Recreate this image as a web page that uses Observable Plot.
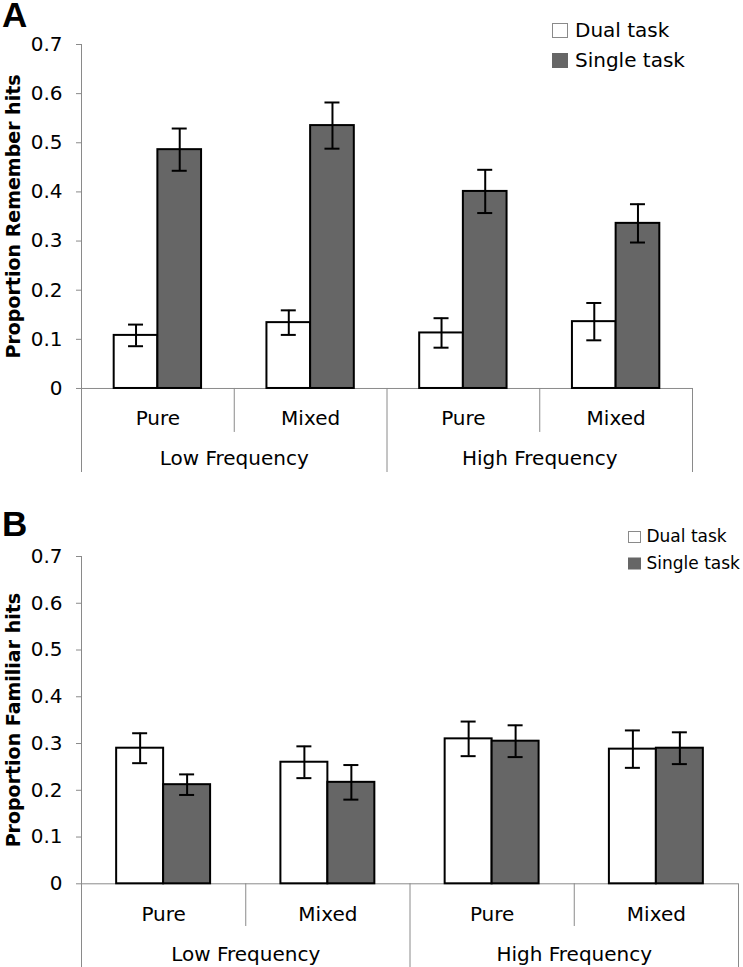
<!DOCTYPE html>
<html>
<head>
<meta charset="utf-8">
<script src="https://cdn.jsdelivr.net/npm/d3@7"></script>
<script src="https://cdn.jsdelivr.net/npm/@observablehq/plot@0.6"></script>
<style>
  html, body { margin: 0; padding: 0; background: #fff; }
  #wrap { position: relative; width: 743px; height: 967px; overflow: hidden; background: #fff; }
  #wrap > div.panel { display: block; line-height: 0; }
  #overlay { position: absolute; left: 0; top: 0; pointer-events: none; }
</style>
</head>
<body>
<div id="wrap">
  <div class="panel" id="panelA"></div>
  <div class="panel" id="panelB"></div>
</div>
<script>
// ---- data ----
const groups = ["Low Frequency", "High Frequency"];
const lists = ["Pure", "Mixed"];
const conditions = ["Dual task", "Single task"];
const conditionColors = ["#ffffff", "#666666"];
const yTicks = [0, 0.1, 0.2, 0.3, 0.4, 0.5, 0.6, 0.7];

// order: LF-Pure, LF-Mixed, HF-Pure, HF-Mixed
const rememberDual      = [0.108, 0.134, 0.113, 0.136];
const rememberDualErr   = [0.022, 0.025, 0.030, 0.038];
const rememberSingle    = [0.486, 0.535, 0.401, 0.336];
const rememberSingleErr = [0.043, 0.047, 0.044, 0.039];

const familiarDual      = [0.290, 0.260, 0.310, 0.288];
const familiarDualErr   = [0.032, 0.034, 0.037, 0.040];
const familiarSingle    = [0.212, 0.217, 0.305, 0.290];
const familiarSingleErr = [0.022, 0.037, 0.034, 0.034];

// ---- build tables ----
const categories = [];
groups.forEach((g, gi) => lists.forEach((l, li) => categories.push({group: g, list: l, i: gi * lists.length + li})));

function table(dual, dualErr, single, singleErr) {
  const rows = [];
  categories.forEach((c, k) => {
    rows.push({...c, cond: conditions[0], ci: 0, v: dual[k], e: dualErr[k]});
    rows.push({...c, cond: conditions[1], ci: 1, v: single[k], e: singleErr[k]});
  });
  return rows;
}

const FONT = "'DejaVu Sans', Verdana, sans-serif";
const AXIS = "#8a8a8a";
const BARW = 0.286; // bar width as fraction of a category

function panel({rows, title, width, height, marginTop, marginLeft, marginRight, yMin, listY, groupY, dividerY}) {
  const innerW = width - marginLeft - marginRight;
  const cap = 7.5 / (innerW / categories.length);
  const x1 = d => d.i + 0.5 - BARW + d.ci * BARW;
  const x2 = d => d.i + 0.5 + d.ci * BARW;
  const cx = d => d.i + 0.5 - BARW / 2 + d.ci * BARW;
  const groupIdx = groups.map((g, gi) => ({g, gi}));
  return Plot.plot({
    width, height, marginTop, marginLeft, marginRight, marginBottom: 0,
    style: {fontFamily: FONT, fontSize: "20px", background: "white", color: "black", overflow: "visible"},
    x: {type: "linear", domain: [0, categories.length], axis: null},
    y: {type: "linear", domain: [yMin, 0.7], axis: null},
    marks: [
      // hierarchical category axis
      Plot.ruleY([0], {x1: 0, x2: categories.length, stroke: AXIS, strokeWidth: 1}),
      Plot.ruleX(categories.filter(c => c.i % lists.length === 1), {x: d => d.i, y1: dividerY, y2: 0, stroke: AXIS, strokeWidth: 1}),
      Plot.ruleX(groupIdx, {x: d => (d.gi + 1) * lists.length, y1: yMin, y2: 0, stroke: AXIS, strokeWidth: 1}),
      Plot.ruleX([0], {y1: yMin, y2: 0.7, stroke: AXIS, strokeWidth: 1}),
      Plot.axisY({ticks: yTicks, tickSize: 5, tickPadding: 14, stroke: AXIS, fill: "black", fontSize: 20,
        tickFormat: d => d === 0 ? "0" : d.toFixed(1), label: null}),
      Plot.text(categories, {x: d => d.i + 0.5, y: listY, text: "list", lineAnchor: "bottom", fontSize: 20, fill: "black"}),
      Plot.text(groupIdx, {x: d => d.gi * lists.length + lists.length / 2, y: groupY, text: "g", lineAnchor: "bottom", fontSize: 20, fill: "black"}),
      // y title
      Plot.text([title], {frameAnchor: "left", y: 0.35, dx: -68, rotate: -90, text: d => d, textAnchor: "middle",
        fontWeight: "bold", fontSize: 19, fill: "black"}),
      // bars
      Plot.rect(rows, {x1, x2, y1: 0, y2: "v", fill: d => conditionColors[d.ci], stroke: "black", strokeWidth: 2}),
      // error bars
      Plot.ruleX(rows, {x: cx, y1: d => d.v - d.e, y2: d => d.v + d.e, stroke: "black", strokeWidth: 2}),
      Plot.ruleY(rows, {x1: d => cx(d) - cap, x2: d => cx(d) + cap, y: d => d.v + d.e, stroke: "black", strokeWidth: 2}),
      Plot.ruleY(rows, {x1: d => cx(d) - cap, x2: d => cx(d) + cap, y: d => d.v - d.e, stroke: "black", strokeWidth: 2})
    ]
  });
}

document.getElementById("panelA").append(panel({
  rows: table(rememberDual, rememberDualErr, rememberSingle, rememberSingleErr),
  title: "Proportion Remember hits",
  width: 743, height: 472, marginTop: 44, marginLeft: 81, marginRight: 51,
  yMin: -0.171, listY: -0.0753, groupY: -0.1567, dividerY: -0.0895
}));

document.getElementById("panelB").append(panel({
  rows: table(familiarDual, familiarDualErr, familiarSingle, familiarSingleErr),
  title: "Proportion Familiar hits",
  width: 743, height: 495, marginTop: 84, marginLeft: 81, marginRight: 5,
  yMin: -0.179, listY: -0.080, groupY: -0.1655, dividerY: -0.0913
}));

// ---- overlay: panel letters and legends ----
const ov = d3.select("#wrap").append("svg").attr("id", "overlay").attr("width", 743).attr("height", 967);
ov.append("text").attr("x", 2).attr("y", 26.7).text("A")
  .attr("font-family", "'Liberation Sans', Arial, sans-serif").attr("font-weight", "bold").attr("font-size", 35);
ov.append("text").attr("x", 2).attr("y", 536).text("B")
  .attr("font-family", "'Liberation Sans', Arial, sans-serif").attr("font-weight", "bold").attr("font-size", 35);

function legend(cfg) {
  const g = ov.append("g");
  conditions.forEach((c, i) => {
    g.append("rect").attr("x", cfg.bx).attr("y", cfg.by + i * cfg.step)
      .attr("width", cfg.bw).attr("height", cfg.bh)
      .attr("fill", conditionColors[i]).attr("stroke", i === 0 ? "#8a8a8a" : conditionColors[i]).attr("stroke-width", 1);
    g.append("text").attr("x", cfg.tx).attr("y", cfg.ty + i * cfg.step).text(c)
      .attr("font-family", FONT).attr("font-size", cfg.fs).attr("fill", "black");
  });
}
legend({bx: 552.5, by: 23.5, bw: 15, bh: 14, step: 30, tx: 575, ty: 37.3, fs: 20});
legend({bx: 628.5, by: 531.5, bw: 12, bh: 11, step: 26.5, tx: 646.5, ty: 542.3, fs: 17});
</script>
</body>
</html>
